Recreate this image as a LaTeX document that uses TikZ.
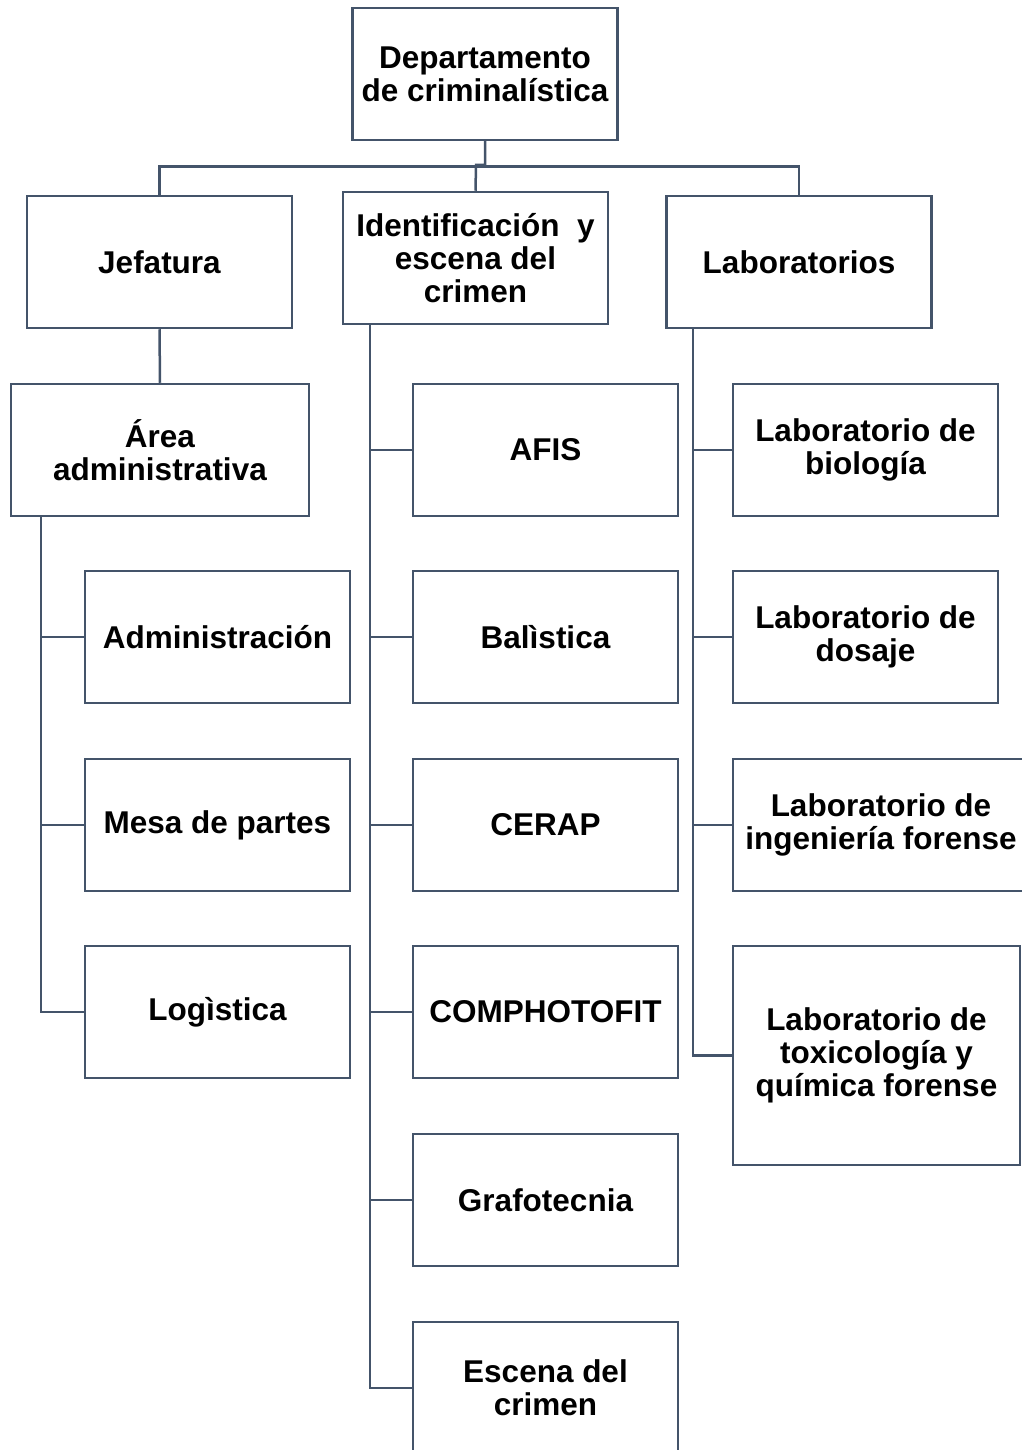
\documentclass[tikz,border=0pt]{standalone}
\usepackage{fontspec}
\setmainfont{Liberation Sans}
\definecolor{ln}{RGB}{68,84,106}
\begin{document}
\begin{tikzpicture}[x=1pt,y=-1pt,
  box/.style={draw=ln,line width=2.5pt,fill=white,minimum width=265pt,minimum height=132pt,
    inner sep=0pt,align=center,font=\fontsize{31.5}{33}\selectfont\bfseries},
  conn/.style={draw=ln,line width=2.5pt}]
\useasboundingbox[fill=white] (0,0) rectangle (1021,1450);
% top
\node[box] (dep) at (485,74) {Departamento\\de criminalística};
\node[box] (jef) at (159.5,262) {Jefatura};
\node[box] (ide) at (475.5,258) {Identificación\ \ y\\escena del\\crimen};
\node[box] (lab) at (799,262) {Laboratorios};
% left
\node[box,minimum width=298pt] (are) at (160,450) {Área\\administrativa};
\node[box] (adm) at (217.5,637) {Administración};
\node[box] (mes) at (217.5,825) {Mesa de partes};
\node[box] (log) at (217.5,1012) {Logìstica};
% middle
\node[box] (afi) at (545.5,450) {AFIS};
\node[box] (bal) at (545.5,637) {Balìstica};
\node[box] (cer) at (545.5,825) {CERAP};
\node[box] (com) at (545.5,1012) {COMPHOTOFIT};
\node[box] (gra) at (545.5,1200) {Grafotecnia};
\node[box] (esc) at (545.5,1388) {Escena del\\crimen};
% right
\node[box] (bio) at (865.5,450) {Laboratorio de\\biología};
\node[box] (dos) at (865.5,637) {Laboratorio de\\dosaje};
\node[box,minimum width=296pt] (ing) at (881,825) {Laboratorio de\\ingeniería forense};
\node[box,minimum width=287pt,minimum height=219pt] (tox) at (876.5,1055.5) {Laboratorio de\\toxicología y\\química forense};
% top connectors
\coordinate (j1) at (485,165);
\coordinate (j2) at (476,165);
\draw[conn] (dep.south) -- (j1) -- (j2) -- (ide.north);
\draw[conn] (jef.north) -- ++(0,-28) -| (lab.north);
\draw[conn] (jef.south) -- (are.north);
% left trunk
\coordinate (tl) at (41,516);
\draw[conn] (tl) |- (log.west);
\draw[conn] (tl |- adm.west) -- (adm.west);
\draw[conn] (tl |- mes.west) -- (mes.west);
% middle trunk
\coordinate (tm) at (370,324);
\draw[conn] (tm) |- (esc.west);
\foreach \n in {afi,bal,cer,com,gra} \draw[conn] (tm |- \n.west) -- (\n.west);
% right trunk
\coordinate (tr) at (693,328);
\draw[conn] (tr) |- (tox.west);
\foreach \n in {bio,dos,ing} \draw[conn] (tr |- \n.west) -- (\n.west);
\end{tikzpicture}
\end{document}
